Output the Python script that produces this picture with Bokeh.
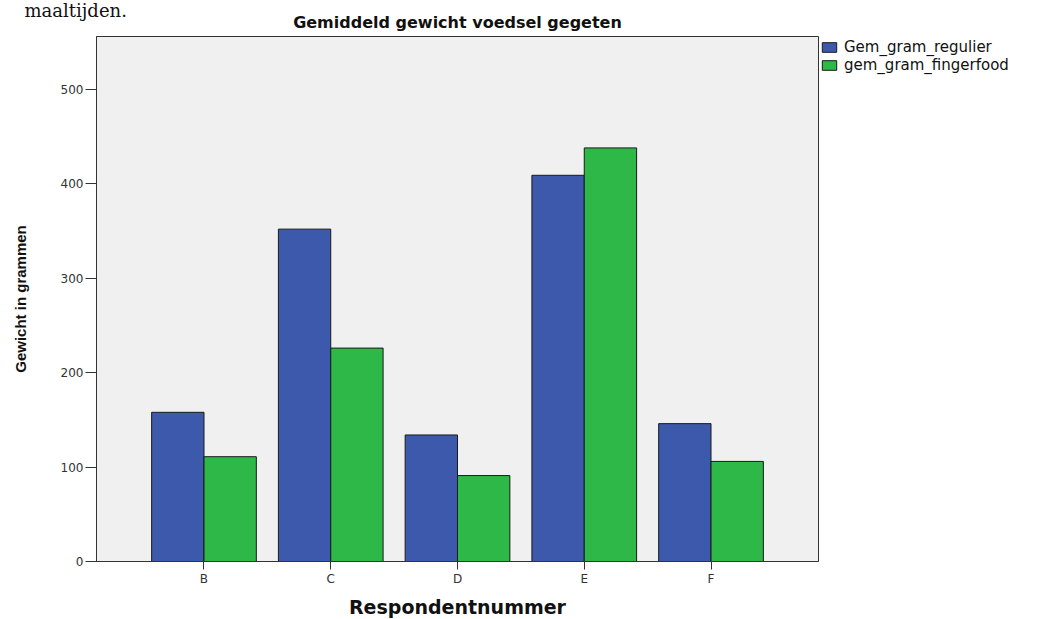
from bokeh.plotting import figure
from bokeh.models import FactorRange, Range1d, ColumnDataSource, Legend, LegendItem, Title
from bokeh.transform import dodge
from bokeh.embed import file_html
from bokeh.resources import INLINE

categories = ["B", "C", "D", "E", "F"]
gem_gram_regulier = [158, 352, 134, 409, 146]
gem_gram_fingerfood = [111, 226, 91, 438, 106]
series_names = ["Gem_gram_regulier", "gem_gram_fingerfood"]
y_ticks = [0, 100, 200, 300, 400, 500]

source = ColumnDataSource(dict(cat=categories, reg=gem_gram_regulier, fin=gem_gram_fingerfood))

p = figure(frame_width=722, frame_height=525, output_backend="svg", toolbar_location=None,
           x_range=FactorRange(factors=categories, range_padding=0.348, range_padding_units="absolute"),
           y_range=Range1d(0, 556),
           title="maaltijden.",
           min_border_left=96, min_border_right=205, min_border_top=36, min_border_bottom=58)

p.background_fill_color = "#F0F0F0"
p.border_fill_color = "white"
p.outline_line_color = "#333333"
p.outline_line_width = 1
p.grid.visible = False

blue = "#3D59AB"
green = "#2EB848"
r1 = p.vbar(x=dodge("cat", -0.2065, range=p.x_range), top="reg", width=0.413, source=source,
            fill_color=blue, line_color="#1a1a1a", line_width=1)
r2 = p.vbar(x=dodge("cat", 0.2065, range=p.x_range), top="fin", width=0.413, source=source,
            fill_color=green, line_color="#1a1a1a", line_width=1)

# outer title: the paragraph text above the chart
p.title.text_font = "DejaVu Serif"
p.title.text_font_size = "18px"
p.title.text_font_style = "normal"
p.title.align = "left"
p.title.offset = -72
p.title.standoff = -22
p.title.text_color = "#111111"

main_title = Title(text="Gemiddeld gewicht voedsel gegeten", align="center", vertical_align="top",
                   standoff=6, text_font="DejaVu Sans", text_font_size="16px",
                   text_font_style="bold", text_color="#111111")
p.add_layout(main_title, "above")

for ax in (p.xaxis[0], p.yaxis[0]):
    ax.axis_line_color = "#333333"
    ax.major_tick_line_color = "#333333"
    ax.minor_tick_line_color = None
    ax.major_tick_in = 0
    ax.major_label_text_font = "DejaVu Sans"
    ax.major_label_text_font_size = "12px"
    ax.major_label_text_color = "#333333"

p.yaxis[0].ticker = y_ticks
p.yaxis[0].major_tick_out = 11
p.yaxis[0].major_label_standoff = 2
p.yaxis[0].axis_label = "Gewicht in grammen"
p.yaxis[0].axis_label_text_font = "Liberation Sans"
p.yaxis[0].axis_label_text_font_style = "bold"
p.yaxis[0].axis_label_text_font_size = "15px"
p.yaxis[0].axis_label_text_color = "#111111"
p.yaxis[0].axis_label_standoff = 29

p.xaxis[0].major_tick_out = 8
p.xaxis[0].major_label_standoff = 2
p.xaxis[0].axis_label = "Respondentnummer"
p.xaxis[0].axis_label_text_font = "DejaVu Sans"
p.xaxis[0].axis_label_text_font_style = "bold"
p.xaxis[0].axis_label_text_font_size = "19px"
p.xaxis[0].axis_label_text_color = "#111111"
p.xaxis[0].axis_label_standoff = 7

legend = Legend(items=[LegendItem(label=series_names[0], renderers=[r1]),
                       LegendItem(label=series_names[1], renderers=[r2])],
                location="top_left", orientation="vertical")
legend.margin = 2
legend.padding = 0
legend.spacing = 0
legend.border_line_color = None
legend.background_fill_alpha = 0
legend.glyph_width = 18
legend.glyph_height = 12
legend.label_height = 17
legend.label_standoff = 6
legend.label_text_font = "DejaVu Sans"
legend.label_text_font_size = "15px"
legend.label_text_color = "#111111"
p.add_layout(legend, "right")

open("out.html", "w").write(file_html(p, INLINE))
